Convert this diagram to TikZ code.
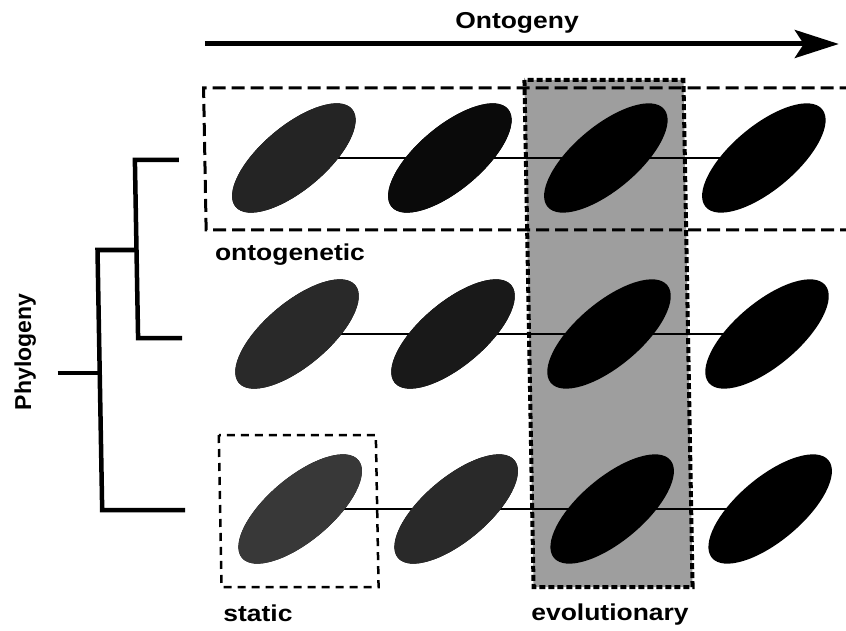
\documentclass[tikz,border=0pt]{standalone}
\usepackage{fontspec}
\usetikzlibrary{arrows.meta,shapes.geometric}
\newfontfamily\lblfont{Liberation Sans}[FakeStretch=1.15]
\newfontfamily\phyfont{Liberation Sans}
\pgfdeclarelayer{shade}
\pgfdeclarelayer{wires}
\pgfsetlayers{shade,wires,main}

\tikzset{
  stage/.style={ellipse, draw=none, inner sep=0pt, minimum width=152pt,
    minimum height=64pt, rotate=40, fill=black},
  wire/.style={line width=2.2pt},
  branch/.style={line width=4.5pt, line join=miter},
  ontobox/.style={line width=3pt, dash pattern=on 13pt off 6pt},
  staticbox/.style={line width=2.5pt, dash pattern=on 8pt off 6pt},
  evobox/.style={line width=4pt, dash pattern=on 6pt off 3pt},
  evofill/.style={fill=black!38},
  lbltext/.style={font=\lblfont\bfseries\fontsize{23}{27}\selectfont,
    inner sep=0pt, anchor=base},
  axisarrow/.style={line width=5pt, -{Stealth[length=44pt, width=28pt, inset=9pt]}}
}

\begin{document}
\begin{tikzpicture}[x=1pt,y=-1pt]
\useasboundingbox (0,0) rectangle (846,631);

\begin{scope}[xslant=-0.018]
  % stages of each lineage (rows) through ontogeny (columns)
  \foreach \r/\y in {1/158,2/334,3/509}{
    \foreach \c/\x in {1/291,2/447,3/603,4/761}{
      \node[stage] (e\r\c) at (\x,\y) {};
    }
  }
  \node[stage, fill=black!86] at (e11) {};
  \node[stage, fill=black!96] at (e12) {};
  \node[stage, fill=black!84] at (e21) {};
  \node[stage, fill=black!90] at (e22) {};
  \node[stage, fill=black!78] at (e31) {};
  \node[stage, fill=black!84] at (e32) {};

  % ontogenetic trajectories
  \begin{pgfonlayer}{wires}
    \draw[wire] (e11.center) -- (e14.center);
    \draw[wire] (e21.center) -- (e24.center);
    \draw[wire] (e31.center) -- (e34.center);
  \end{pgfonlayer}

  % evolutionary comparison band
  \begin{pgfonlayer}{shade}
    \fill[evofill] (523,80) rectangle (682,587);
  \end{pgfonlayer}
  \draw[evobox] (523,80) rectangle (682,587);

  % ontogenetic comparison (open to the right)
  \draw[ontobox] (870,88) -| (202,230) -- (870,230);

  % static comparison
  \draw[staticbox] (211,435) rectangle (368,587);

  % phylogeny
  \coordinate (t1) at (176,160);
  \coordinate (t2) at (176,338);
  \coordinate (t3) at (176,510);
  \coordinate (j1) at (132,250);
  \coordinate (j2) at (93,250);
  \coordinate (j0) at (93,373);
  \coordinate (root) at (51,373);
  \draw[branch] (t1) -| (j1) |- (t2);
  \draw[branch] (j1) -- (j2) |- (t3);
  \draw[branch] (root) -- (j0);

  % ontogeny axis
  \coordinate (a0) at (204,44);
  \coordinate (a1) at (838,44);
  \draw[axisarrow] (a0) -- (a1);
\end{scope}

\node[lbltext] (ontTitle) at (517,29) {Ontogeny};
\node[lbltext] (ontoLbl) at (290,260) {ontogenetic};
\node[lbltext] (staticLbl) at (258,621) {static};
\node[lbltext] (evoLbl) at (610,620) {evolutionary};
\node[font=\phyfont\bfseries\fontsize{23}{27}\selectfont, inner sep=0pt,
      anchor=base, rotate=90] (phyLbl) at (31,352) {Phylogeny};
\end{tikzpicture}
\end{document}
